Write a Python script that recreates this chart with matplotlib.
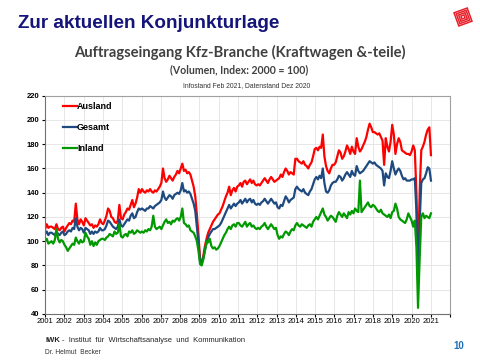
import numpy as np
import matplotlib
matplotlib.use("Agg")
import matplotlib.pyplot as plt
import matplotlib.patches as mpatches
import matplotlib.transforms as mtransforms

plt.rcParams['font.family'] = ['Liberation Sans', 'DejaVu Sans']

# monthly index values 2001-2020 (2000 = 100)
ausland = [
    110, 114, 111, 112, 112, 111, 110, 114, 110, 109, 111, 112,  # 2001
    108, 111, 113, 115, 114, 117, 116, 131, 118, 114, 118, 116,  # 2002
    113, 119, 117, 115, 113, 114, 111, 113, 112, 114, 118, 115,  # 2003
    114, 117, 121, 127, 125, 120, 119, 116, 115, 117, 130, 119,  # 2004
    118, 122, 124, 127, 126, 130, 134, 128, 131, 136, 143, 140,  # 2005
    143, 141, 140, 142, 141, 143, 141, 140, 142, 141, 143, 145,  # 2006
    148, 160, 152, 149, 151, 154, 152, 150, 153, 155, 158, 156,  # 2007
    160, 164, 158, 159, 156, 157, 155, 150, 145, 137, 122, 105,  # 2008
    85, 82, 88, 96, 102, 107, 110, 113, 116, 118, 120, 122,      # 2009
    123, 126, 129, 133, 137, 140, 145, 138, 142, 144, 141, 145,  # 2010
    146, 148, 145, 149, 150, 147, 149, 151, 148, 150, 147, 146,  # 2011
    147, 146, 148, 150, 152, 150, 148, 151, 153, 151, 149, 150,  # 2012
    151, 152, 155, 153, 157, 160, 158, 155, 157, 156, 155, 168,  # 2013
    168, 166, 165, 164, 166, 163, 162, 160, 163, 165, 170, 176,  # 2014
    177, 175, 178, 177, 188, 170, 162, 158, 156, 160, 163, 163,  # 2015
    165, 170, 175, 173, 168, 170, 174, 179, 176, 172, 178, 174,  # 2016
    172, 185, 178, 174, 176, 179, 182, 186, 192, 197, 194, 190,  # 2017
    190, 189, 188, 189, 186, 183, 163, 185, 178, 174, 182, 196,  # 2018
    188, 172, 180, 185, 182, 175, 174, 173, 172, 172, 171, 174,  # 2019
    179, 175, 140, 82, 140, 175, 178, 182, 188, 192, 194, 171,   # 2020
]
gesamt = [
    106, 108, 105, 107, 107, 106, 105, 108, 106, 105, 107, 108,  # 2001
    105, 106, 108, 109, 108, 111, 110, 119, 112, 109, 111, 110,  # 2002
    107, 111, 110, 109, 106, 108, 106, 108, 107, 108, 111, 109,  # 2003
    109, 110, 113, 117, 116, 114, 112, 111, 110, 112, 118, 113,  # 2004
    112, 114, 116, 118, 117, 121, 123, 119, 120, 124, 127, 126,  # 2005
    127, 126, 125, 127, 127, 129, 128, 127, 129, 130, 131, 132,  # 2006
    134, 141, 136, 134, 136, 138, 137, 135, 138, 139, 140, 139,  # 2007
    142, 148, 141, 142, 140, 141, 139, 135, 131, 125, 112, 98,   # 2008
    83, 82, 86, 93, 98, 103, 106, 108, 110, 110, 111, 112,       # 2009
    113, 115, 118, 121, 124, 127, 130, 127, 129, 131, 129, 131,  # 2010
    132, 134, 131, 133, 135, 132, 134, 135, 132, 134, 131, 130,  # 2011
    131, 130, 132, 133, 135, 133, 131, 133, 135, 133, 131, 132,  # 2012
    128, 127, 130, 129, 133, 137, 135, 132, 134, 135, 136, 143,  # 2013
    145, 143, 142, 141, 143, 140, 139, 138, 141, 143, 147, 151,  # 2014
    153, 151, 154, 152, 160, 148, 141, 140, 142, 146, 148, 149,  # 2015
    149, 151, 154, 153, 150, 152, 155, 157, 155, 153, 158, 155,  # 2016
    154, 162, 158, 156, 157, 158, 160, 162, 164, 166, 165, 164,  # 2017
    165, 163, 162, 161, 160, 158, 146, 156, 153, 152, 158, 166,  # 2018
    160, 155, 158, 160, 158, 154, 151, 152, 150, 150, 150, 151,  # 2019
    151, 152, 125, 68, 115, 148, 151, 152, 156, 161, 160, 150,   # 2020
]
inland = [
    100, 102, 98, 99, 100, 98, 101, 110, 102, 99, 101, 100,      # 2001
    97, 95, 92, 94, 96, 98, 97, 103, 100, 98, 101, 99,           # 2002
    100, 107, 104, 102, 97, 100, 96, 99, 97, 100, 101, 102,      # 2003
    102, 101, 103, 104, 106, 105, 104, 108, 106, 107, 114, 104,  # 2004
    103, 105, 106, 104, 108, 107, 109, 106, 107, 109, 108, 107,  # 2005
    108, 107, 109, 108, 110, 109, 112, 121, 112, 110, 111, 112,  # 2006
    110, 113, 116, 118, 115, 116, 114, 117, 116, 118, 119, 117,  # 2007
    120, 127, 115, 114, 112, 113, 109, 108, 107, 104, 100, 92,   # 2008
    81, 80, 85, 92, 100, 99, 102, 96, 94, 95, 93, 94,            # 2009
    96, 99, 102, 105, 107, 110, 112, 110, 113, 114, 112, 115,    # 2010
    115, 113, 112, 114, 116, 112, 114, 115, 112, 113, 111, 110,  # 2011
    111, 110, 112, 113, 115, 112, 110, 112, 114, 112, 110, 111,  # 2012
    105, 102, 104, 103, 106, 108, 107, 105, 108, 110, 109, 113,  # 2013
    115, 113, 112, 114, 113, 112, 111, 113, 114, 112, 116, 118,  # 2014
    120, 118, 121, 124, 127, 122, 120, 117, 119, 121, 120, 118,  # 2015
    116, 121, 124, 122, 120, 123, 121, 119, 124, 122, 125, 123,  # 2016
    127, 125, 124, 150, 124, 126, 128, 130, 132, 129, 128, 130,  # 2017
    129, 127, 125, 124, 126, 123, 122, 121, 120, 122, 119, 124,  # 2018
    125, 131, 127, 120, 118, 117, 116, 115, 118, 123, 120, 117,  # 2019
    112, 117, 95, 45, 85, 120, 123, 119, 121, 120, 119, 123,     # 2020
]
years = list(range(2001, 2023))
year_labels = [str(y) for y in range(2001, 2022)] + [""]

x = np.linspace(2001, 2021, len(gesamt))

fig = plt.figure(figsize=(4.8, 3.6), dpi=100)
ax = fig.add_axes([0.094, 0.128, 0.844, 0.606])

ax.plot(x, ausland, color="#ff0000", lw=1.6, label="Ausland")
ax.plot(x, gesamt, color="#1f4a80", lw=1.6, label="Gesamt")
ax.plot(x, inland, color="#009a00", lw=1.6, label="Inland")

ax.set_xlim(2001, 2022)
ax.set_ylim(40, 220)
ax.set_yticks(range(40, 221, 20))
ax.set_xticks(years)
ax.set_xticklabels(year_labels)
ax.tick_params(axis="x", labelsize=5.5, length=2, pad=1)
ax.tick_params(axis="y", labelsize=5.5, length=2, pad=2)
for t in ax.get_yticklabels():
    t.set_fontweight("bold")
ax.grid(True, color="#e3e3e3", lw=0.6)
ax.set_axisbelow(True)
for s in ["top", "right"]:
    ax.spines[s].set_color("#a0a0a0")
for s in ["left", "bottom"]:
    ax.spines[s].set_color("#707070")

leg = ax.legend(loc="upper left", bbox_to_anchor=(0.025, 1.01), frameon=False,
                handlelength=1.5, handletextpad=0.0, labelspacing=1.35,
                prop={"weight": "bold", "size": 6.5})

# slide texts
fig.text(18 / 480, 1 - 24 / 360, "Zur aktuellen Konjunkturlage", color="#14147a",
         fontsize=13.6, fontweight="bold", va="center", ha="left")
fig.text(240 / 480, 1 - 52 / 360, "Auftragseingang Kfz-Branche (Kraftwagen &-teile)",
         color="#404040", fontsize=10.6, fontweight="bold", family=["Lato", "DejaVu Sans"],
         va="center", ha="center")
fig.text(239 / 480, 1 - 70 / 360, "(Volumen, Index: 2000 = 100)", color="#404040",
         fontsize=7.6, fontweight="bold", family=["Lato", "DejaVu Sans"],
         va="center", ha="center")
fig.text(247 / 480, 1 - 86 / 360, "Infostand Feb 2021, Datenstand Dez 2020",
         color="#333333", fontsize=4.9, va="center", ha="center")
fig.text(45 / 480, 1 - 341 / 360, "IWK", color="#222222", fontsize=5.5,
         fontweight="bold", va="center", ha="left")
fig.text(62 / 480, 1 - 341 / 360, "-  Institut  für  Wirtschaftsanalyse  und  Kommunikation",
         color="#222222", fontsize=5.4, va="center", ha="left")
fig.text(45 / 480, 1 - 352 / 360, "Dr. Helmut  Becker", color="#333333", fontsize=4.8,
         va="center", ha="left")
fig.text(459 / 480, 1 - 346 / 360, "10", color="#1e6fb5", fontsize=7,
         fontweight="bold", va="center", ha="center")

# small red logo (rotated square pattern)
cx, cy = 463, 17
for half in [7, 5.2, 3.4, 1.6]:
    tr = mtransforms.Affine2D().rotate_deg_around(cx, 360 - cy, 20) + \
        mtransforms.Affine2D().scale(1 / 480, 1 / 360) + fig.transFigure
    sq = mpatches.Rectangle((cx - half, 360 - cy - half), 2 * half, 2 * half,
                            fill=False, ec="#e8202a", lw=1.1, transform=tr)
    fig.patches.append(sq)

fig.savefig("out.png", dpi=100)
